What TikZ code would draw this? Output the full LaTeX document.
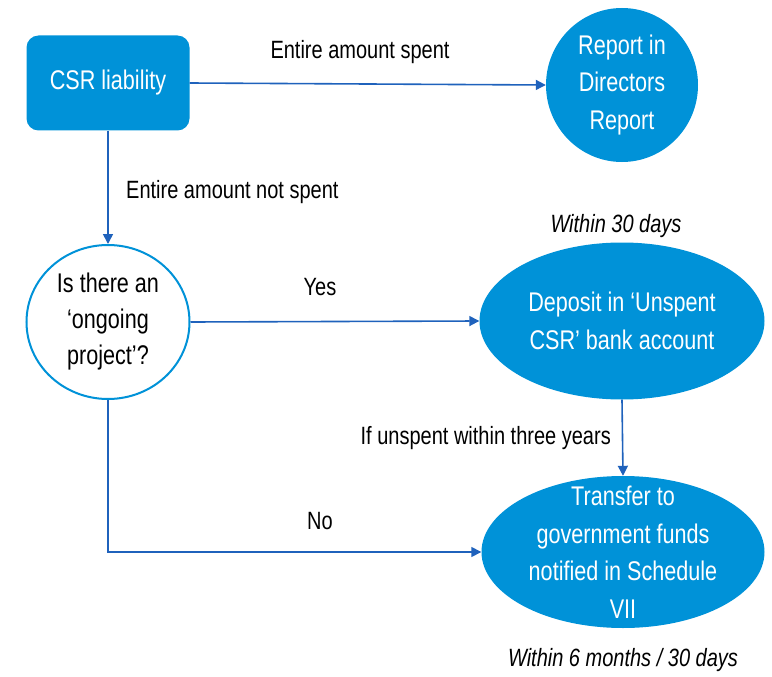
\documentclass[tikz,border=0pt]{standalone}
\usepackage{fontspec}
\setmainfont{Liberation Sans}[FakeStretch=0.8]
\usepackage{xcolor}
\usepackage{tikz}
\usetikzlibrary{arrows.meta,positioning,shapes.geometric}

\definecolor{csrblue}{RGB}{0,146,216}
\definecolor{flowblue}{RGB}{31,98,188}

\begin{document}
\begin{tikzpicture}[x=1pt, y=-1pt,
  boxtext/.style={text=white, align=center, font=\fontsize{27}{37.5}\selectfont, inner sep=0pt},
  bubble/.style={boxtext, ellipse, fill=csrblue},
  lbl/.style={font=\fontsize{25}{30}\selectfont, inner sep=0pt},
  flow/.style={-{Triangle[length=10pt,width=10pt]}, line width=1.6pt, flowblue}]

\useasboundingbox (0,0) rectangle (772,677);

% Start block
\node[boxtext, rectangle, rounded corners=12pt, fill=csrblue, minimum width=163pt, minimum height=95pt] (csr) at (108,83) {CSR liability};

% Outcome when fully spent
\node[bubble, minimum width=152pt, minimum height=154pt] (report) at (622,85) {Report in\\Directors\\Report};

% Decision (outlined)
\node[ellipse, draw=csrblue, line width=2pt, fill=white, align=center, inner sep=0pt, font=\fontsize{27}{36}\selectfont, minimum width=163pt, minimum height=154pt] (dec) at (108,322) {Is there an\\‘ongoing\\project’?};

% Unspent account and transfer
\node[bubble, minimum width=285pt, minimum height=157pt] (deposit) at (622,321) {Deposit in ‘Unspent\\CSR’ bank account};
\node[bubble, inner xsep=0pt, inner ysep=-14pt, minimum width=283pt, minimum height=152pt] (trans) at (623,552) {Transfer to\\government funds\\notified in Schedule\\VII};

% Connectors
\draw[flow] (csr.east) -- (report.west);
\draw[flow] (csr.south) -- (dec.north);
\draw[flow] (dec.east) -- (deposit.west);
\draw[flow] (deposit.south) -- (trans.north);
\draw[flow] (dec.south) |- (trans.west);

% Labels
\node[lbl] (lspent) at (360,52) {Entire amount spent};
\node[lbl, anchor=west] (lnotspent) at (126,192) {Entire amount not spent};
\node[lbl] (lyes) at (320,287) {Yes};
\node[lbl, font=\fontsize{25}{30}\selectfont\itshape] (ldays) at (616,226) {Within 30 days};
\node[lbl, anchor=east] (lthree) at (611,438) {If unspent within three years};
\node[lbl] (lno) at (320,521) {No};
\node[lbl, font=\fontsize{25}{30}\selectfont\itshape] (lmonths) at (623,660) {Within 6 months / 30 days};

\end{tikzpicture}
\end{document}
